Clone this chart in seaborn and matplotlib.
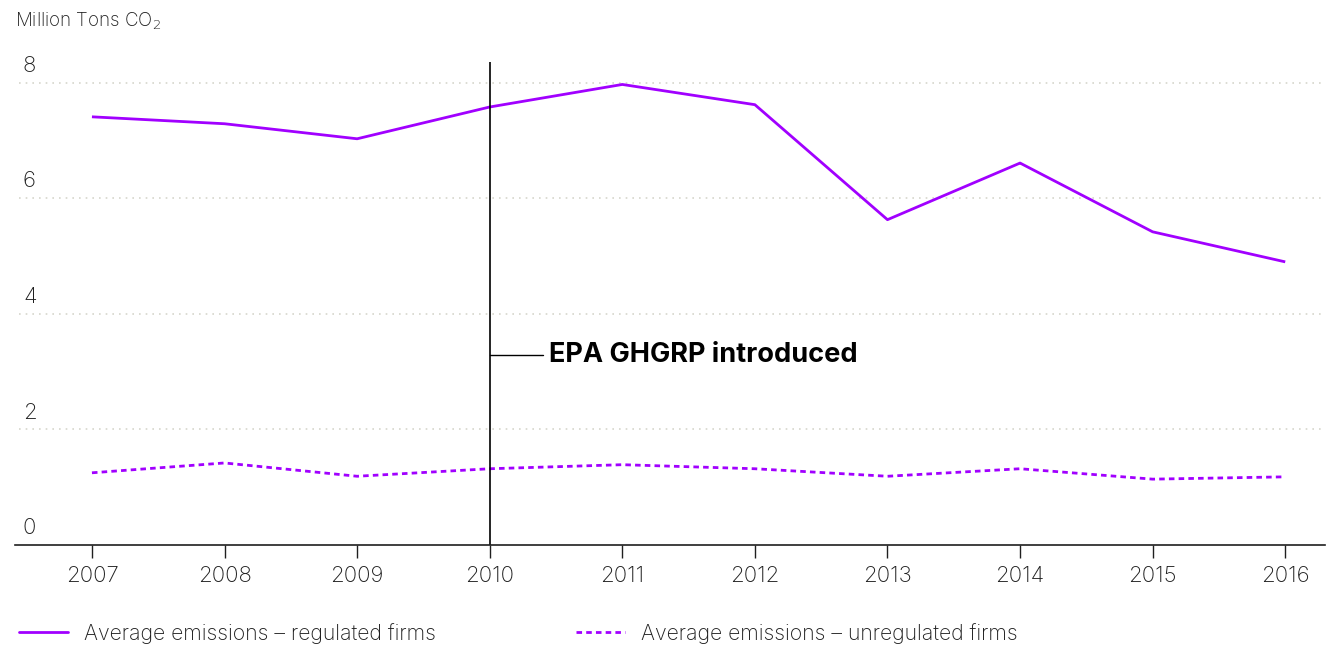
import pandas as pd
import seaborn as sns
import matplotlib.pyplot as plt

years = [2007, 2008, 2009, 2010, 2011, 2012, 2013, 2014, 2015, 2016]
regulated = [7.41, 7.29, 7.03, 7.58, 7.97, 7.62, 5.63, 6.61, 5.42, 4.90]
unregulated = [1.25, 1.42, 1.19, 1.32, 1.39, 1.32, 1.19, 1.32, 1.14, 1.18]
series_names = ["Average emissions \u2013 regulated firms",
                "Average emissions \u2013 unregulated firms"]
y_ticks = [0, 2, 4, 6, 8]
event_year = 2010
event_label = "EPA GHGRP introduced"

purple = "#A100FF"
text_col = "#1f1f1f"

sns.set_theme(style="white")
plt.rcParams["font.family"] = ["Inter", "DejaVu Sans"]
plt.rcParams["font.weight"] = "light"

df = pd.DataFrame({"year": years * 2,
                   "value": regulated + unregulated,
                   "series": [series_names[0]] * len(years) + [series_names[1]] * len(years)})

fig = plt.figure(figsize=(13.31, 6.45), dpi=100)
ax = fig.add_axes([0.0113, 0.155, 0.9842, 0.749])

sns.lineplot(data=df, x="year", y="value", hue="series", style="series",
             palette=[purple, purple], dashes=[(1, 0), (2, 1.5)],
             linewidth=2, ax=ax, legend=False)

ax.set_xlim(2006.42, 2016.30)
ax.set_ylim(0, 8.36)
ax.set_xticks(years)
ax.set_xticklabels([str(y) for y in years], fontsize=16, color=text_col, fontweight="light")
ax.set_yticks([])
ax.set_xlabel("")
ax.set_ylabel("")
for s in ["top", "right", "left"]:
    ax.spines[s].set_visible(False)
ax.spines["bottom"].set_color(text_col)
ax.spines["bottom"].set_linewidth(1.2)
ax.tick_params(axis="x", bottom=True, length=9, width=1, color=text_col, pad=6)

# dotted gridlines with labels above
for t in y_ticks[1:]:
    ax.plot([2006.45, 2016.30], [t, t], ls=(0, (1, 3)), color="#d6d6cc", lw=1.2, zorder=0)
for t in y_ticks:
    ax.text(2006.48, t + 0.12, str(t), fontsize=16, color=text_col, ha="left", va="bottom",
            fontweight="light")

# event marker
ax.axvline(event_year, color="black", lw=1.2, ymin=0, ymax=1)
ax.plot([event_year, event_year + 0.40], [3.29, 3.29], color="black", lw=1)
ax.text(event_year + 0.45, 3.29, event_label, fontsize=19.5, fontweight="bold",
        color="black", va="center", ha="left")

fig.text(0.0113, 0.967, "Million Tons CO$_2$", fontsize=13.5, color=text_col,
         ha="left", va="center", fontweight="light")

handles = [plt.Line2D([], [], color=purple, lw=2),
           plt.Line2D([], [], color=purple, lw=2, ls=(0, (2, 1.5)))]
leg = fig.legend(handles, series_names, loc="center left", bbox_to_anchor=(0.0, 0.018),
                 ncol=2, frameon=False, fontsize=15.3, handlelength=2.3, handletextpad=0.75,
                 columnspacing=6.6, labelcolor=text_col)
for t in leg.get_texts():
    t.set_fontweight("light")

fig.savefig("out.png", dpi=100)
